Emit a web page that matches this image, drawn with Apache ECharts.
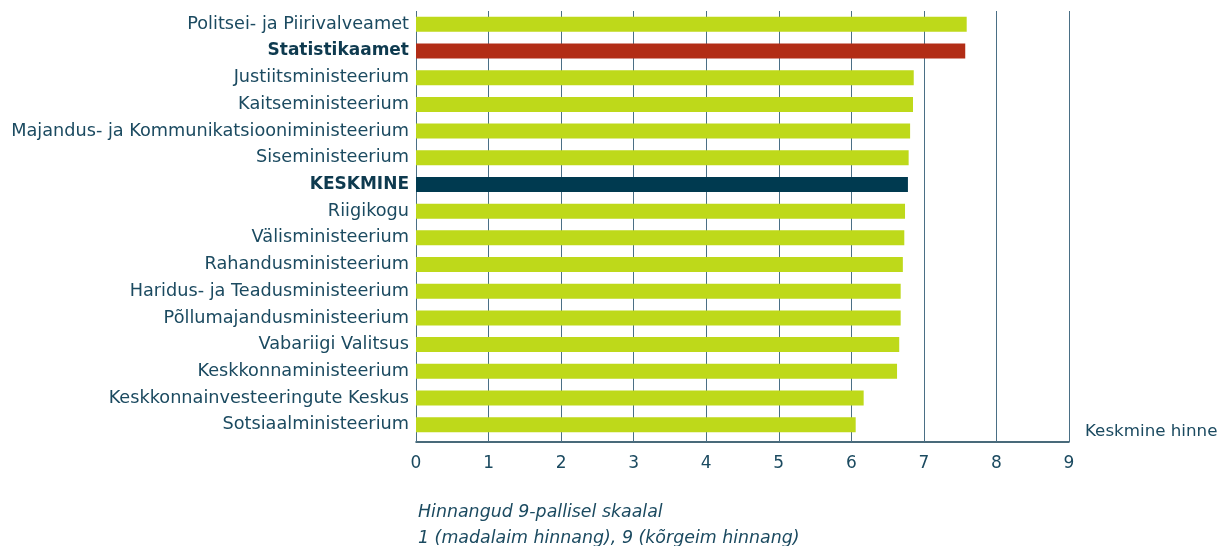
<!DOCTYPE html>
<html>
<head>
<meta charset="utf-8">
<script src="https://cdn.jsdelivr.net/npm/echarts@6/dist/echarts.min.js"></script>
<style>
  html, body { margin: 0; padding: 0; background: #fff; }
  #chart { width: 1219px; height: 546px; }
</style>
</head>
<body>
<div id="chart"></div>
<script>
// asutused ülevalt alla
const categories = [
  'Politsei- ja Piirivalveamet',
  'Statistikaamet',
  'Justiitsministeerium',
  'Kaitseministeerium',
  'Majandus- ja Kommunikatsiooniministeerium',
  'Siseministeerium',
  'KESKMINE',
  'Riigikogu',
  'Välisministeerium',
  'Rahandusministeerium',
  'Haridus- ja Teadusministeerium',
  'Põllumajandusministeerium',
  'Vabariigi Valitsus',
  'Keskkonnaministeerium',
  'Keskkonnainvesteeringute Keskus',
  'Sotsiaalministeerium'
]
const scores = [7.59, 7.57, 6.86, 6.85, 6.81, 6.79, 6.78, 6.74, 6.73, 6.71, 6.68, 6.68, 6.66, 6.63, 6.17, 6.06]
const xTicks = [0, 1, 2, 3, 4, 5, 6, 7, 8, 9]
const noteLines = ['Hinnangud 9-pallisel skaalal', '1 (madalaim hinnang), 9 (kõrgeim hinnang)']

const GREEN = '#bed91a'
const RED = '#b22d16'
const NAVY = '#003a50'
const TEXT = '#1b4a60'
const FONT = 'DejaVu Sans, Liberation Sans, sans-serif'

const barColor = (name) => {
  if (name === 'Statistikaamet') return RED
  if (name === 'KESKMINE') return NAVY
  return GREEN
}

const chart = echarts.init(document.getElementById('chart'))

chart.setOption({
  backgroundColor: '#fff',
  animation: false,
  textStyle: { fontFamily: FONT },
  title: {
    text: noteLines.join('\n'),
    left: 413,
    top: 494,
    textStyle: {
      fontFamily: FONT,
      fontSize: 17.4,
      fontStyle: 'italic',
      fontWeight: 'normal',
      color: TEXT,
      lineHeight: 26
    }
  },
  grid: {
    left: 416,
    top: 11,
    width: 653,
    height: 427,
    containLabel: false,
    outerBoundsMode: 'none'
  },
  xAxis: {
    type: 'value',
    min: 0,
    max: 9,
    interval: 1,
    offset: 4,
    name: 'Keskmine hinne',
    nameLocation: 'end',
    nameGap: 16,
    nameTextStyle: { fontFamily: FONT, color: TEXT, fontSize: 16.7, verticalAlign: 'bottom', padding: [0, 0, 2, 0] },
    axisLine: { show: true, lineStyle: { color: '#0e3a4f', width: 1.5 } },
    axisTick: { show: true, inside: true, length: 5, lineStyle: { color: '#4a6f85' } },
    axisLabel: {
      fontFamily: FONT,
      color: TEXT,
      fontSize: 17,
      margin: 13,
      formatter: (v) => xTicks.includes(v) ? String(v) : ''
    },
    splitLine: { show: true, lineStyle: { color: '#4a6f85', width: 1 } }
  },
  yAxis: {
    type: 'category',
    inverse: true,
    data: categories,
    axisLine: { show: false },
    axisTick: { show: false },
    axisLabel: {
      fontFamily: FONT,
      fontSize: 17.7,
      margin: 7,
      color: TEXT,
      formatter: (v) => (v === 'Statistikaamet' || v === 'KESKMINE') ? '{b|' + v + '}' : v,
      rich: {
        b: { fontFamily: FONT, fontSize: 17, fontWeight: 'bold', color: '#0e3a4f' }
      }
    }
  },
  series: [
    {
      type: 'bar',
      barWidth: 15,
      data: scores.map((v, i) => ({ value: v, itemStyle: { color: barColor(categories[i]) } }))
    }
  ]
})
</script>
</body>
</html>
